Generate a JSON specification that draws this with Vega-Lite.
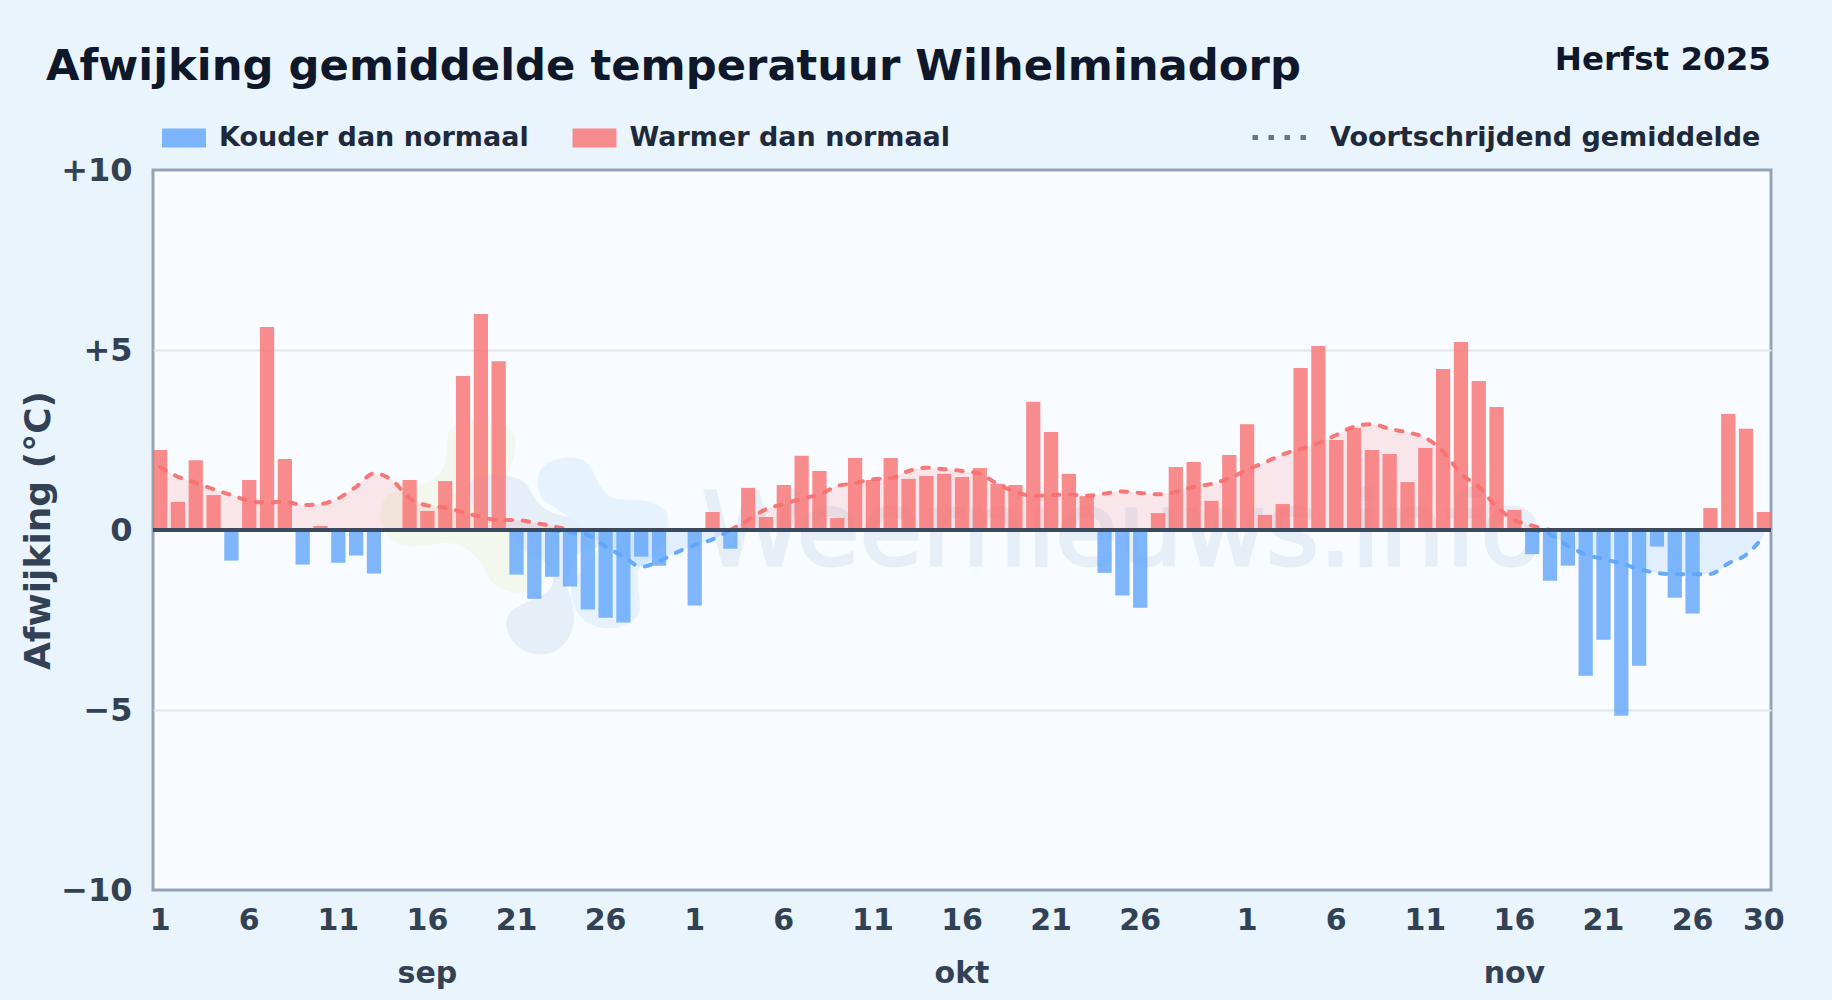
{"$schema":"https://vega.github.io/schema/vega-lite/v6.json","width":1618,"height":720,"autosize":{"type":"none"},"padding":{"left":153,"top":170,"right":61,"bottom":110},"background":"#eaf4fc",
"title":{"text":"Afwijking gemiddelde temperatuur Wilhelminadorp","anchor":"start","frame":"group","dx":-107,"offset":-79,"baseline":"alphabetic","font":"DejaVu Sans","fontSize":43.3,"fontWeight":"bold","color":"#0f172a"},
"view":{"fill":"#f8fbff","stroke":"#94a3b8","strokeWidth":3},
"config":{"font":"DejaVu Sans"},
"datasets":{
"days":[
{"date":"2025-09-01","dev":2.22,"kind":"Warmer dan normaal"},{"date":"2025-09-02","dev":0.78,"kind":"Warmer dan normaal"},{"date":"2025-09-03","dev":1.94,"kind":"Warmer dan normaal"},{"date":"2025-09-04","dev":0.97,"kind":"Warmer dan normaal"},{"date":"2025-09-05","dev":-0.85,"kind":"Kouder dan normaal"},{"date":"2025-09-06","dev":1.39,"kind":"Warmer dan normaal"},{"date":"2025-09-07","dev":5.64,"kind":"Warmer dan normaal"},{"date":"2025-09-08","dev":1.97,"kind":"Warmer dan normaal"},{"date":"2025-09-09","dev":-0.96,"kind":"Kouder dan normaal"},{"date":"2025-09-10","dev":0.11,"kind":"Warmer dan normaal"},
{"date":"2025-09-11","dev":-0.91,"kind":"Kouder dan normaal"},{"date":"2025-09-12","dev":-0.71,"kind":"Kouder dan normaal"},{"date":"2025-09-13","dev":-1.21,"kind":"Kouder dan normaal"},{"date":"2025-09-14","dev":0,"kind":"Warmer dan normaal"},{"date":"2025-09-15","dev":1.39,"kind":"Warmer dan normaal"},{"date":"2025-09-16","dev":0.53,"kind":"Warmer dan normaal"},{"date":"2025-09-17","dev":1.36,"kind":"Warmer dan normaal"},{"date":"2025-09-18","dev":4.28,"kind":"Warmer dan normaal"},{"date":"2025-09-19","dev":6.0,"kind":"Warmer dan normaal"},{"date":"2025-09-20","dev":4.69,"kind":"Warmer dan normaal"},
{"date":"2025-09-21","dev":-1.24,"kind":"Kouder dan normaal"},{"date":"2025-09-22","dev":-1.91,"kind":"Kouder dan normaal"},{"date":"2025-09-23","dev":-1.3,"kind":"Kouder dan normaal"},{"date":"2025-09-24","dev":-1.57,"kind":"Kouder dan normaal"},{"date":"2025-09-25","dev":-2.21,"kind":"Kouder dan normaal"},{"date":"2025-09-26","dev":-2.44,"kind":"Kouder dan normaal"},{"date":"2025-09-27","dev":-2.57,"kind":"Kouder dan normaal"},{"date":"2025-09-28","dev":-0.74,"kind":"Kouder dan normaal"},{"date":"2025-09-29","dev":-0.99,"kind":"Kouder dan normaal"},{"date":"2025-09-30","dev":0,"kind":"Warmer dan normaal"},
{"date":"2025-10-01","dev":-2.1,"kind":"Kouder dan normaal"},{"date":"2025-10-02","dev":0.5,"kind":"Warmer dan normaal"},{"date":"2025-10-03","dev":-0.52,"kind":"Kouder dan normaal"},{"date":"2025-10-04","dev":1.17,"kind":"Warmer dan normaal"},{"date":"2025-10-05","dev":0.36,"kind":"Warmer dan normaal"},{"date":"2025-10-06","dev":1.25,"kind":"Warmer dan normaal"},{"date":"2025-10-07","dev":2.06,"kind":"Warmer dan normaal"},{"date":"2025-10-08","dev":1.64,"kind":"Warmer dan normaal"},{"date":"2025-10-09","dev":0.33,"kind":"Warmer dan normaal"},{"date":"2025-10-10","dev":2.0,"kind":"Warmer dan normaal"},
{"date":"2025-10-11","dev":1.39,"kind":"Warmer dan normaal"},{"date":"2025-10-12","dev":2.0,"kind":"Warmer dan normaal"},{"date":"2025-10-13","dev":1.42,"kind":"Warmer dan normaal"},{"date":"2025-10-14","dev":1.5,"kind":"Warmer dan normaal"},{"date":"2025-10-15","dev":1.56,"kind":"Warmer dan normaal"},{"date":"2025-10-16","dev":1.47,"kind":"Warmer dan normaal"},{"date":"2025-10-17","dev":1.72,"kind":"Warmer dan normaal"},{"date":"2025-10-18","dev":1.28,"kind":"Warmer dan normaal"},{"date":"2025-10-19","dev":1.25,"kind":"Warmer dan normaal"},{"date":"2025-10-20","dev":3.56,"kind":"Warmer dan normaal"},
{"date":"2025-10-21","dev":2.72,"kind":"Warmer dan normaal"},{"date":"2025-10-22","dev":1.56,"kind":"Warmer dan normaal"},{"date":"2025-10-23","dev":0.94,"kind":"Warmer dan normaal"},{"date":"2025-10-24","dev":-1.19,"kind":"Kouder dan normaal"},{"date":"2025-10-25","dev":-1.82,"kind":"Kouder dan normaal"},{"date":"2025-10-26","dev":-2.16,"kind":"Kouder dan normaal"},{"date":"2025-10-27","dev":0.47,"kind":"Warmer dan normaal"},{"date":"2025-10-28","dev":1.75,"kind":"Warmer dan normaal"},{"date":"2025-10-29","dev":1.89,"kind":"Warmer dan normaal"},{"date":"2025-10-30","dev":0.81,"kind":"Warmer dan normaal"},
{"date":"2025-10-31","dev":2.08,"kind":"Warmer dan normaal"},{"date":"2025-11-01","dev":2.94,"kind":"Warmer dan normaal"},{"date":"2025-11-02","dev":0.42,"kind":"Warmer dan normaal"},{"date":"2025-11-03","dev":0.72,"kind":"Warmer dan normaal"},{"date":"2025-11-04","dev":4.5,"kind":"Warmer dan normaal"},{"date":"2025-11-05","dev":5.11,"kind":"Warmer dan normaal"},{"date":"2025-11-06","dev":2.5,"kind":"Warmer dan normaal"},{"date":"2025-11-07","dev":2.83,"kind":"Warmer dan normaal"},{"date":"2025-11-08","dev":2.22,"kind":"Warmer dan normaal"},{"date":"2025-11-09","dev":2.11,"kind":"Warmer dan normaal"},
{"date":"2025-11-10","dev":1.33,"kind":"Warmer dan normaal"},{"date":"2025-11-11","dev":2.28,"kind":"Warmer dan normaal"},{"date":"2025-11-12","dev":4.47,"kind":"Warmer dan normaal"},{"date":"2025-11-13","dev":5.22,"kind":"Warmer dan normaal"},{"date":"2025-11-14","dev":4.14,"kind":"Warmer dan normaal"},{"date":"2025-11-15","dev":3.42,"kind":"Warmer dan normaal"},{"date":"2025-11-16","dev":0.56,"kind":"Warmer dan normaal"},{"date":"2025-11-17","dev":-0.67,"kind":"Kouder dan normaal"},{"date":"2025-11-18","dev":-1.41,"kind":"Kouder dan normaal"},{"date":"2025-11-19","dev":-0.99,"kind":"Kouder dan normaal"},
{"date":"2025-11-20","dev":-4.05,"kind":"Kouder dan normaal"},{"date":"2025-11-21","dev":-3.05,"kind":"Kouder dan normaal"},{"date":"2025-11-22","dev":-5.16,"kind":"Kouder dan normaal"},{"date":"2025-11-23","dev":-3.77,"kind":"Kouder dan normaal"},{"date":"2025-11-24","dev":-0.46,"kind":"Kouder dan normaal"},{"date":"2025-11-25","dev":-1.88,"kind":"Kouder dan normaal"},{"date":"2025-11-26","dev":-2.32,"kind":"Kouder dan normaal"},{"date":"2025-11-27","dev":0.61,"kind":"Warmer dan normaal"},{"date":"2025-11-28","dev":3.22,"kind":"Warmer dan normaal"},{"date":"2025-11-29","dev":2.81,"kind":"Warmer dan normaal"},{"date":"2025-11-30","dev":0.5,"kind":"Warmer dan normaal"}
],
"avg":[
{"seg":1,"kind":"Warmer dan normaal","date":"2025-09-01","ma":1.74},{"seg":1,"kind":"Warmer dan normaal","date":"2025-09-02","ma":1.48},{"seg":1,"kind":"Warmer dan normaal","date":"2025-09-03","ma":1.31},{"seg":1,"kind":"Warmer dan normaal","date":"2025-09-04","ma":1.13},{"seg":1,"kind":"Warmer dan normaal","date":"2025-09-05","ma":0.97},{"seg":1,"kind":"Warmer dan normaal","date":"2025-09-06","ma":0.81},{"seg":1,"kind":"Warmer dan normaal","date":"2025-09-07","ma":0.76},{"seg":1,"kind":"Warmer dan normaal","date":"2025-09-08","ma":0.79},{"seg":1,"kind":"Warmer dan normaal","date":"2025-09-09","ma":0.69},{"seg":1,"kind":"Warmer dan normaal","date":"2025-09-10","ma":0.72},
{"seg":1,"kind":"Warmer dan normaal","date":"2025-09-11","ma":0.88},{"seg":1,"kind":"Warmer dan normaal","date":"2025-09-12","ma":1.2},{"seg":1,"kind":"Warmer dan normaal","date":"2025-09-13","ma":1.57},{"seg":1,"kind":"Warmer dan normaal","date":"2025-09-14","ma":1.39},{"seg":1,"kind":"Warmer dan normaal","date":"2025-09-15","ma":0.88},{"seg":1,"kind":"Warmer dan normaal","date":"2025-09-16","ma":0.68},{"seg":1,"kind":"Warmer dan normaal","date":"2025-09-17","ma":0.62},{"seg":1,"kind":"Warmer dan normaal","date":"2025-09-18","ma":0.49},{"seg":1,"kind":"Warmer dan normaal","date":"2025-09-19","ma":0.37},{"seg":1,"kind":"Warmer dan normaal","date":"2025-09-20","ma":0.27},
{"seg":1,"kind":"Warmer dan normaal","date":"2025-09-21","ma":0.28},{"seg":1,"kind":"Warmer dan normaal","date":"2025-09-22","ma":0.2},{"seg":1,"kind":"Warmer dan normaal","date":"2025-09-23","ma":0.11},{"seg":1,"kind":"Warmer dan normaal","date":"2025-09-24","ma":0},
{"seg":2,"kind":"Kouder dan normaal","date":"2025-09-23","ma":0},{"seg":2,"kind":"Kouder dan normaal","date":"2025-09-24","ma":-0.07},{"seg":2,"kind":"Kouder dan normaal","date":"2025-09-25","ma":-0.14},{"seg":2,"kind":"Kouder dan normaal","date":"2025-09-26","ma":-0.46},{"seg":2,"kind":"Kouder dan normaal","date":"2025-09-27","ma":-0.74},{"seg":2,"kind":"Kouder dan normaal","date":"2025-09-28","ma":-1.02},{"seg":2,"kind":"Kouder dan normaal","date":"2025-09-29","ma":-0.87},{"seg":2,"kind":"Kouder dan normaal","date":"2025-09-30","ma":-0.62},{"seg":2,"kind":"Kouder dan normaal","date":"2025-10-01","ma":-0.42},{"seg":2,"kind":"Kouder dan normaal","date":"2025-10-02","ma":-0.26},{"seg":2,"kind":"Kouder dan normaal","date":"2025-10-03","ma":0},
{"seg":3,"kind":"Warmer dan normaal","date":"2025-10-03","ma":0},{"seg":3,"kind":"Warmer dan normaal","date":"2025-10-04","ma":0.28},{"seg":3,"kind":"Warmer dan normaal","date":"2025-10-05","ma":0.58},{"seg":3,"kind":"Warmer dan normaal","date":"2025-10-06","ma":0.72},{"seg":3,"kind":"Warmer dan normaal","date":"2025-10-07","ma":0.87},{"seg":3,"kind":"Warmer dan normaal","date":"2025-10-08","ma":0.99},{"seg":3,"kind":"Warmer dan normaal","date":"2025-10-09","ma":1.22},{"seg":3,"kind":"Warmer dan normaal","date":"2025-10-10","ma":1.3},{"seg":3,"kind":"Warmer dan normaal","date":"2025-10-11","ma":1.41},{"seg":3,"kind":"Warmer dan normaal","date":"2025-10-12","ma":1.44},
{"seg":3,"kind":"Warmer dan normaal","date":"2025-10-13","ma":1.64},{"seg":3,"kind":"Warmer dan normaal","date":"2025-10-14","ma":1.73},{"seg":3,"kind":"Warmer dan normaal","date":"2025-10-15","ma":1.69},{"seg":3,"kind":"Warmer dan normaal","date":"2025-10-16","ma":1.64},{"seg":3,"kind":"Warmer dan normaal","date":"2025-10-17","ma":1.56},{"seg":3,"kind":"Warmer dan normaal","date":"2025-10-18","ma":1.28},{"seg":3,"kind":"Warmer dan normaal","date":"2025-10-19","ma":1.06},{"seg":3,"kind":"Warmer dan normaal","date":"2025-10-20","ma":0.95},{"seg":3,"kind":"Warmer dan normaal","date":"2025-10-21","ma":0.97},{"seg":3,"kind":"Warmer dan normaal","date":"2025-10-22","ma":0.99},
{"seg":3,"kind":"Warmer dan normaal","date":"2025-10-23","ma":0.95},{"seg":3,"kind":"Warmer dan normaal","date":"2025-10-24","ma":1.01},{"seg":3,"kind":"Warmer dan normaal","date":"2025-10-25","ma":1.07},{"seg":3,"kind":"Warmer dan normaal","date":"2025-10-26","ma":1.03},{"seg":3,"kind":"Warmer dan normaal","date":"2025-10-27","ma":0.99},{"seg":3,"kind":"Warmer dan normaal","date":"2025-10-28","ma":1.06},{"seg":3,"kind":"Warmer dan normaal","date":"2025-10-29","ma":1.2},{"seg":3,"kind":"Warmer dan normaal","date":"2025-10-30","ma":1.28},{"seg":3,"kind":"Warmer dan normaal","date":"2025-10-31","ma":1.44},{"seg":3,"kind":"Warmer dan normaal","date":"2025-11-01","ma":1.67},
{"seg":3,"kind":"Warmer dan normaal","date":"2025-11-02","ma":1.88},{"seg":3,"kind":"Warmer dan normaal","date":"2025-11-03","ma":2.1},{"seg":3,"kind":"Warmer dan normaal","date":"2025-11-04","ma":2.25},{"seg":3,"kind":"Warmer dan normaal","date":"2025-11-05","ma":2.41},{"seg":3,"kind":"Warmer dan normaal","date":"2025-11-06","ma":2.64},{"seg":3,"kind":"Warmer dan normaal","date":"2025-11-07","ma":2.87},{"seg":3,"kind":"Warmer dan normaal","date":"2025-11-08","ma":2.94},{"seg":3,"kind":"Warmer dan normaal","date":"2025-11-09","ma":2.81},{"seg":3,"kind":"Warmer dan normaal","date":"2025-11-10","ma":2.71},{"seg":3,"kind":"Warmer dan normaal","date":"2025-11-11","ma":2.56},
{"seg":3,"kind":"Warmer dan normaal","date":"2025-11-12","ma":2.18},{"seg":3,"kind":"Warmer dan normaal","date":"2025-11-13","ma":1.57},{"seg":3,"kind":"Warmer dan normaal","date":"2025-11-14","ma":1.2},{"seg":3,"kind":"Warmer dan normaal","date":"2025-11-15","ma":0.65},{"seg":3,"kind":"Warmer dan normaal","date":"2025-11-16","ma":0.28},{"seg":3,"kind":"Warmer dan normaal","date":"2025-11-17","ma":0.12},{"seg":3,"kind":"Warmer dan normaal","date":"2025-11-18","ma":0},
{"seg":4,"kind":"Kouder dan normaal","date":"2025-11-17","ma":0},{"seg":4,"kind":"Kouder dan normaal","date":"2025-11-18","ma":-0.12},{"seg":4,"kind":"Kouder dan normaal","date":"2025-11-19","ma":-0.44},{"seg":4,"kind":"Kouder dan normaal","date":"2025-11-20","ma":-0.68},{"seg":4,"kind":"Kouder dan normaal","date":"2025-11-21","ma":-0.81},{"seg":4,"kind":"Kouder dan normaal","date":"2025-11-22","ma":-0.93},{"seg":4,"kind":"Kouder dan normaal","date":"2025-11-23","ma":-1.09},{"seg":4,"kind":"Kouder dan normaal","date":"2025-11-24","ma":-1.19},{"seg":4,"kind":"Kouder dan normaal","date":"2025-11-25","ma":-1.23},{"seg":4,"kind":"Kouder dan normaal","date":"2025-11-26","ma":-1.23},{"seg":4,"kind":"Kouder dan normaal","date":"2025-11-27","ma":-1.22},{"seg":4,"kind":"Kouder dan normaal","date":"2025-11-28","ma":-0.93},{"seg":4,"kind":"Kouder dan normaal","date":"2025-11-29","ma":-0.69},{"seg":4,"kind":"Kouder dan normaal","date":"2025-11-30","ma":-0.17}
]},
"encoding":{
"x":{"field":"date","type":"ordinal","scale":{"paddingInner":0.2,"paddingOuter":0},"axis":{"title":null,"domain":false,"ticks":false,"grid":false,"labelAngle":0,"labelOverlap":false,"labelBound":false,"labelFlush":false,"labelFont":"DejaVu Sans","labelFontSize":30,"labelFontWeight":"bold","labelColor":"#334155","labelPadding":15,"labelLineHeight":53,"labelBaseline":"top","values":["2025-09-01","2025-09-06","2025-09-11","2025-09-16","2025-09-21","2025-09-26","2025-10-01","2025-10-06","2025-10-11","2025-10-16","2025-10-21","2025-10-26","2025-11-01","2025-11-06","2025-11-11","2025-11-16","2025-11-21","2025-11-26","2025-11-30"],"labelExpr":"datum.value=='2025-09-16'?['16','sep']:datum.value=='2025-10-16'?['16','okt']:datum.value=='2025-11-16'?['16','nov']:''+toNumber(slice(datum.value,8))"}}
},
"layer":[
{"data":{"values":[{"date":"2025-09-21","v":0}]},"mark":{"type":"point","shape":"M-204,-290C-189,-340,-39,-345,-9,-290C11,-240,-19,-190,-29,-165L81,160C41,200,-39,200,-79,150C-109,100,-119,50,-209,38C-259,40,-309,60,-359,40C-409,10,-429,-60,-389,-100C-349,-135,-269,-125,-229,-170C-204,-210,-214,-250,-204,-290Z","size":0.444,"filled":true,"fill":"#f3f8ee","fillOpacity":1,"strokeWidth":0},"encoding":{"y":{"field":"v","type":"quantitative"}}},
{"data":{"values":[{"date":"2025-09-21","v":0}]},"mark":{"type":"point","shape":"M-139,-145C-99,-175,1,-175,36,-130C61,-70,101,-40,181,-40C241,-40,281,-15,286,0C286,40,241,60,201,60C161,80,161,140,146,165C191,240,181,340,101,370C31,385,-29,340,-31,280C-29,230,31,220,91,190C121,160,121,110,61,80C1,60,-19,20,-39,-20C-99,-40,-159,-80,-139,-145Z","size":0.444,"filled":true,"fill":"#e6eff8","fillOpacity":1,"strokeWidth":0},"encoding":{"y":{"field":"v","type":"quantitative"}}},
{"data":{"values":[{"date":"2025-09-21","v":0}]},"mark":{"type":"point","shape":"M66,-160C71,-210,151,-230,201,-210C241,-185,231,-130,291,-95C351,-85,421,-100,451,-50C466,20,421,80,371,110C351,150,381,210,366,250C341,300,251,310,201,270C161,230,151,170,181,140L261,40C181,-30,121,-60,81,-90C61,-120,61,-140,66,-160Z","size":0.444,"filled":true,"fill":"#e6f3fe","fillOpacity":1,"strokeWidth":0},"encoding":{"y":{"field":"v","type":"quantitative"}}},
{"data":{"values":[{"date":"2025-10-25","v":-0.97,"t":"Weernieuws.info"}]},"mark":{"type":"text","font":"DejaVu Sans","fontSize":102,"align":"center","baseline":"alphabetic","fill":"#2563a8","stroke":"#2563a8","strokeWidth":3,"opacity":0.08},"encoding":{"y":{"field":"v","type":"quantitative"},"text":{"field":"t"}}},
{"data":{"name":"avg"},"mark":{"type":"area","interpolate":"monotone","fillOpacity":0.15},"encoding":{"y":{"field":"ma","type":"quantitative"},"y2":{"datum":0},"detail":{"field":"seg"},"fill":{"field":"kind","type":"nominal"}}},
{"data":{"name":"days"},"mark":{"type":"bar","fillOpacity":0.8},"encoding":{"y":{"field":"dev","type":"quantitative","stack":null,"scale":{"domain":[-10,10]},"axis":{"title":"Afwijking (°C)","titleFont":"DejaVu Sans","titleFontSize":36,"titleFontWeight":"bold","titleColor":"#334155","titlePadding":3,"domain":false,"ticks":false,"values":[-10,-5,0,5,10],"labelExpr":"datum.value>0?'+'+datum.value:datum.value<0?'−'+abs(datum.value):'0'","labelFont":"DejaVu Sans","labelFontSize":32,"labelFontWeight":"bold","labelColor":"#334155","labelPadding":21,"gridColor":"#e2e6ea","gridWidth":2,"gridOpacity":{"condition":{"test":"abs(datum.value)==10","value":0},"value":1}}},
"fill":{"field":"kind","type":"nominal","scale":{"domain":["Kouder dan normaal","Warmer dan normaal"],"range":["#60a5fa","#f87171"]},"legend":{"title":null,"orient":"none","legendX":9,"legendY":-54,"direction":"horizontal","columns":2,"columnPadding":43.5,"labelLimit":600,"symbolType":"M-1,-0.432H1V0.432H-1Z","symbolSize":1936,"symbolOpacity":0.8,"symbolStrokeWidth":0,"labelOffset":13,"labelFont":"DejaVu Sans","labelFontSize":27,"labelFontWeight":"bold","labelColor":"#1e293b"}}}},
{"data":{"name":"avg"},"mark":{"type":"line","interpolate":"monotone","strokeWidth":4,"strokeCap":"round","strokeDash":[6.5,10.5],"strokeOpacity":0.95},"encoding":{"y":{"field":"ma","type":"quantitative"},"detail":{"field":"seg"},"stroke":{"field":"kind","type":"nominal","scale":{"domain":["Kouder dan normaal","Warmer dan normaal"],"range":["#60a5fa","#f87171"]},"legend":null}}},
{"data":{"values":[{"date":"2025-11-30","v":0,"s":"Voortschrijdend gemiddelde"}]},"mark":{"type":"line","stroke":"#64748b"},"encoding":{"y":{"field":"v","type":"quantitative"},"strokeDash":{"field":"s","type":"nominal","scale":{"range":[[5.5,10.5]]},"legend":{"title":null,"orient":"none","legendX":1097,"legendY":-62,"labelLimit":600,"symbolType":"stroke","symbolSize":2916,"symbolStrokeWidth":5,"symbolStrokeColor":"#64748b","labelOffset":21,"labelFont":"DejaVu Sans","labelFontSize":27,"labelFontWeight":"bold","labelColor":"#1e293b"}}}},
{"data":{"values":[{"v":0}]},"mark":{"type":"rule","stroke":"#3b4a5f","strokeWidth":4},"encoding":{"x":{"value":0},"x2":{"value":1618},"y":{"field":"v","type":"quantitative"}}},
{"data":{"values":[{"date":"2025-11-30","v":12.78,"t":"Herfst 2025"}]},"mark":{"type":"text","font":"DejaVu Sans","fontSize":32.5,"fontWeight":"bold","align":"right","baseline":"alphabetic","dx":7,"fill":"#0f172a"},"encoding":{"y":{"field":"v","type":"quantitative"},"text":{"field":"t"}}}
]}
